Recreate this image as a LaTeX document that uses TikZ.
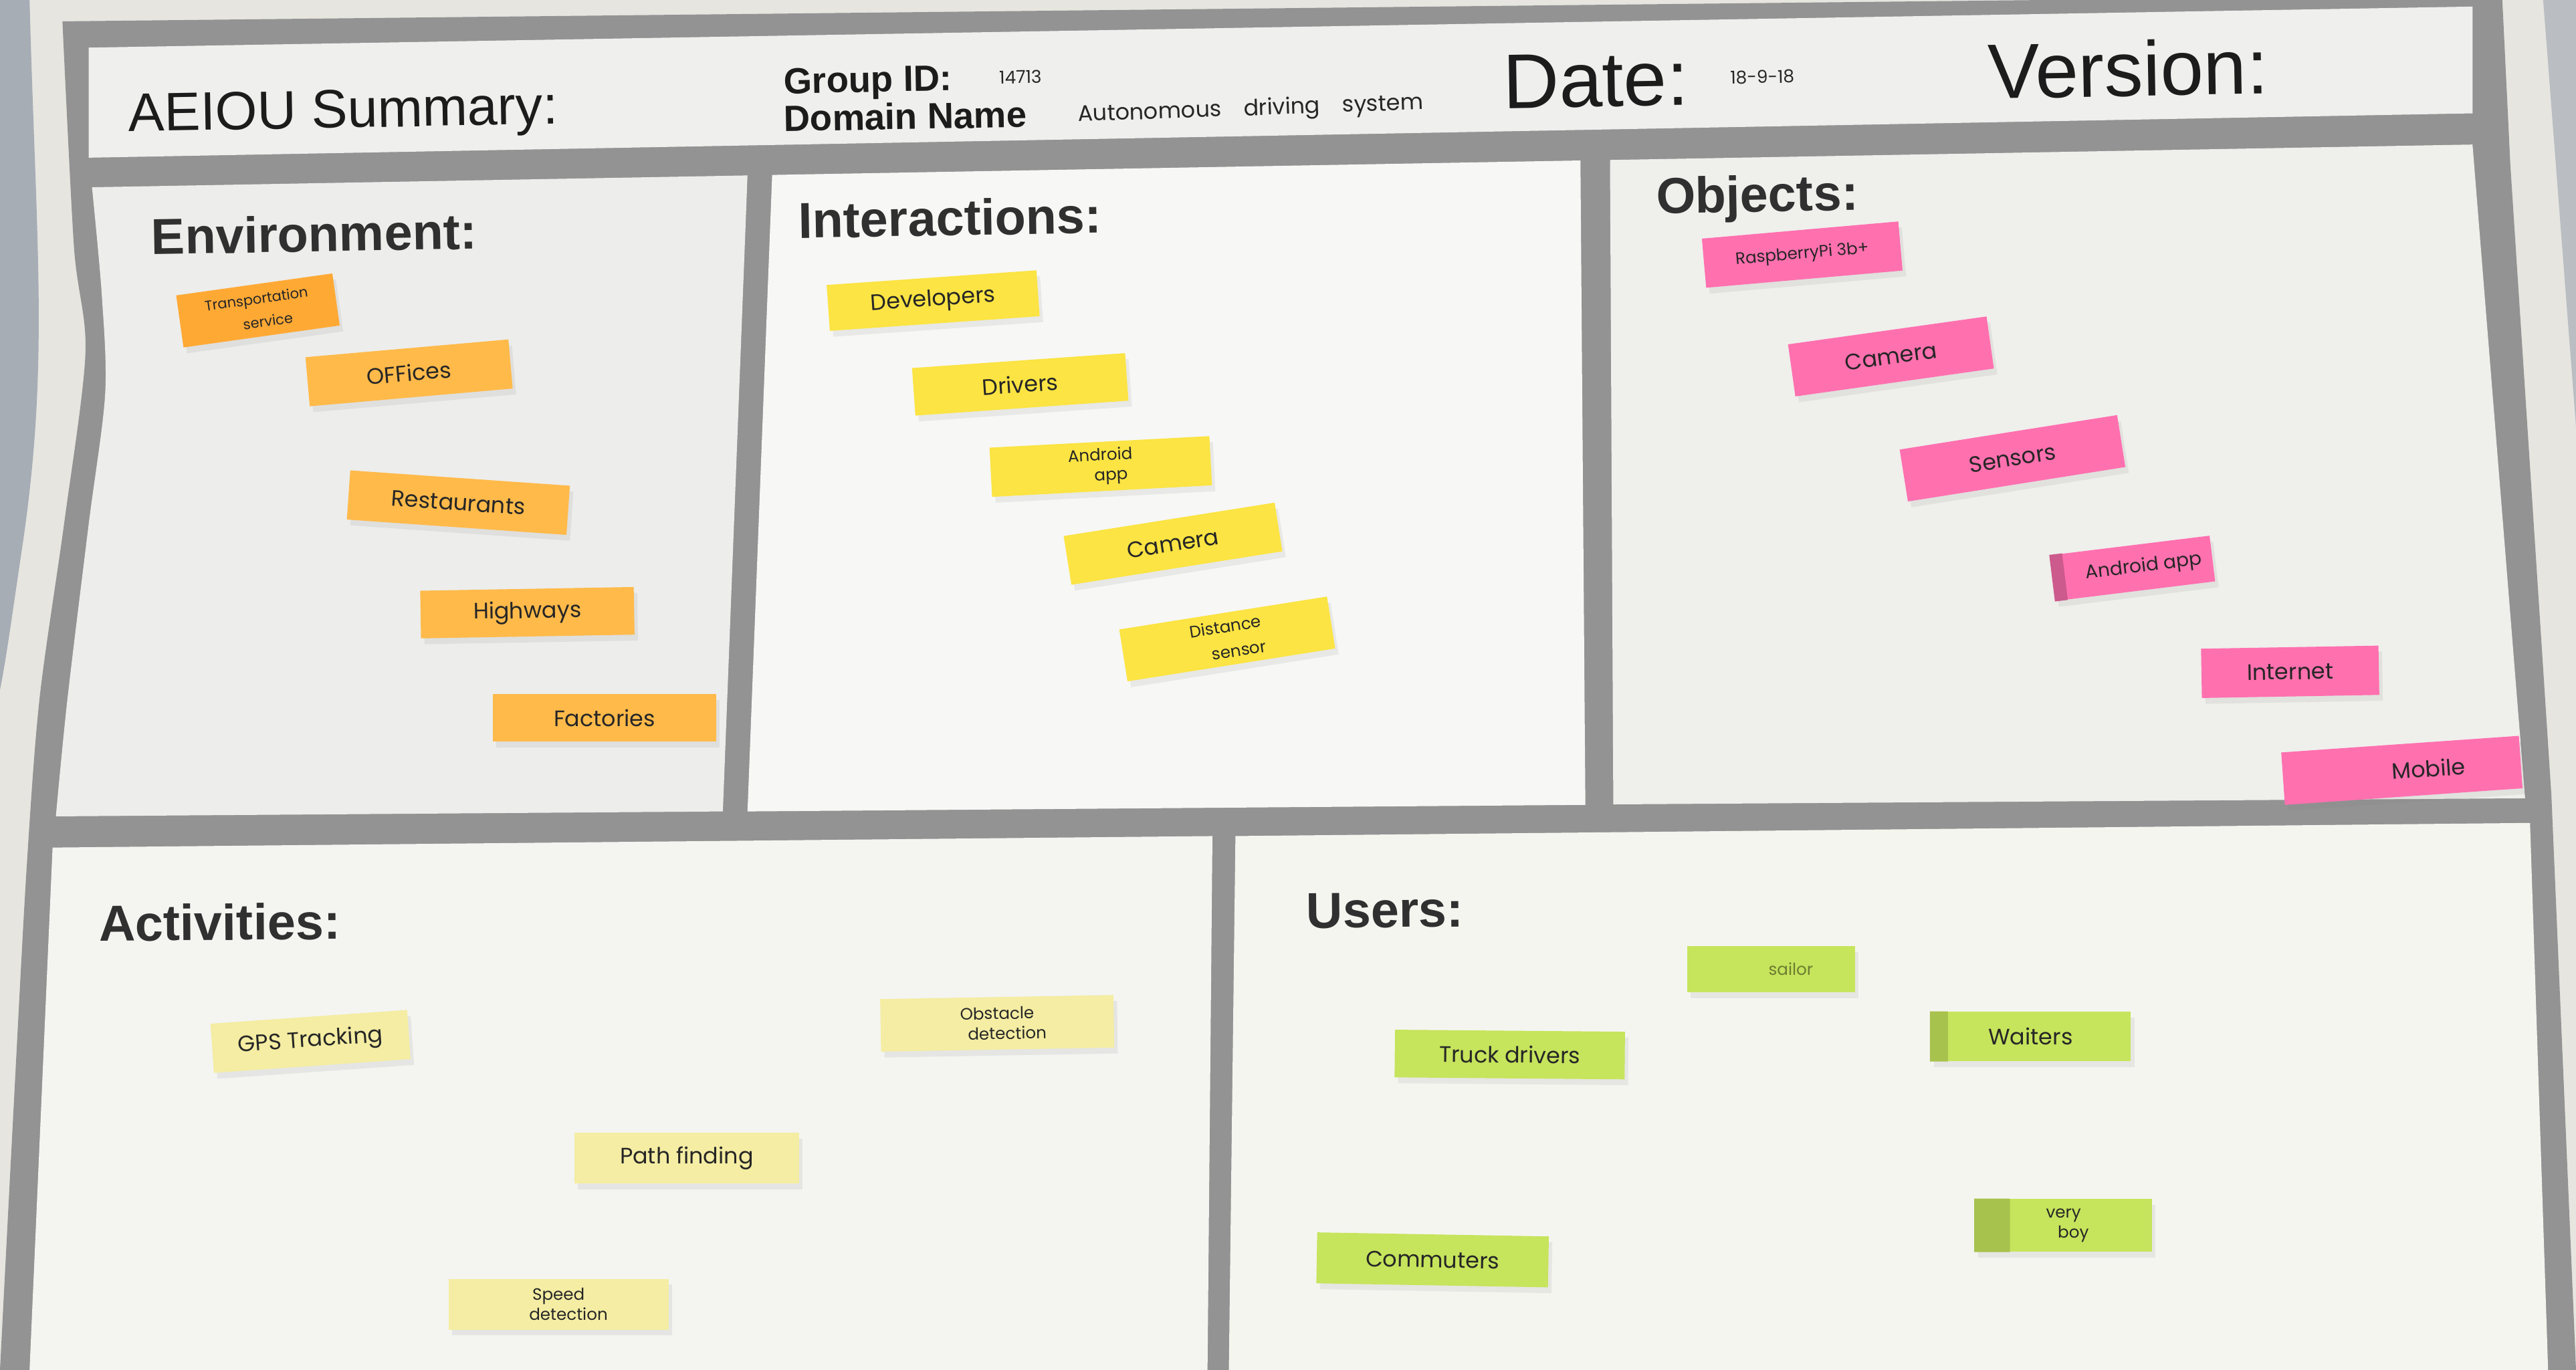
\documentclass[tikz,border=0pt]{standalone}
\usepackage{fontspec}
\setmainfont{Liberation Sans}
\newfontfamily\handfont{Poppins}
\usetikzlibrary{calc,shadows}
\definecolor{wallgray}{HTML}{E6E5E0}
\definecolor{wallblue}{HTML}{A7ADB5}
\definecolor{framegray}{HTML}{939393}
\definecolor{headerwhite}{HTML}{EFEFED}
\definecolor{envpaper}{HTML}{EDEDEB}
\definecolor{intpaper}{HTML}{F7F7F5}
\definecolor{objpaper}{HTML}{EFEFEC}
\definecolor{actpaper}{HTML}{F4F4F1}
\definecolor{userpaper}{HTML}{F5F5F0}
\definecolor{envorange}{HTML}{FFBA4A}
\definecolor{darkorange}{HTML}{FFA935}
\definecolor{intyellow}{HTML}{FBE443}
\definecolor{objpink}{HTML}{FF70AF}
\definecolor{actyellow}{HTML}{F4EDA3}
\definecolor{usergreen}{HTML}{C6E45C}
\definecolor{titleink}{HTML}{1C1C1C}
\definecolor{headink}{HTML}{303030}
\definecolor{penink}{HTML}{262626}
\newcommand{\px}{0.024566cm}
\newcommand{\makenote}[7]{
	\node[note, fill=#2, #3, minimum width=#4*\px, minimum height=#5*\px] (#1) at (#6) {#7};
}
\newcommand{\makefold}[3]{
	\fill[#2] (#1.north west) -- ($(#1.north west)!#3!(#1.north east)$) -- ($(#1.south west)!#3!(#1.south east)$) -- (#1.south west) -- cycle;
}
\newcommand{\indentline}{\hspace*{1.2em}}

\tikzset{
	note/.style={inner sep=0pt, align=center, text=penink, font=\handfont\fontsize{9.5}{10}\selectfont,
		drop shadow={opacity=0.12, shadow xshift=1.5pt, shadow yshift=-2.5pt}},
	twoline/.style={font=\handfont\fontsize{7}{8.6}\selectfont},
	heading/.style={anchor=base west, inner sep=0pt, text=headink, font=\bfseries\fontsize{21.5}{24}\selectfont},
	label/.style={anchor=base west, inner sep=0pt, text=titleink, font=\bfseries\fontsize{15.5}{18}\selectfont},
	big/.style={anchor=base west, inner sep=0pt, text=titleink, font=\fontsize{33}{36}\selectfont},
	hand/.style={anchor=base west, inner sep=0pt, text=penink, font=\handfont\fontsize{9}{10}\selectfont}
}

\begin{document}
\begin{tikzpicture}[x=0.024566cm,y=-0.024566cm]
	\useasboundingbox (0,0) rectangle (1568,834);
	\fill[wallgray] (0,0) rectangle (1568,834);
	\fill[wallblue] (0,0) -- (18,0) .. controls (22,150) and (30,220) .. (14,330) .. controls (8,370) and (4,400) .. (0,420) -- cycle;
	\fill[wallblue!70!wallgray] (1548,0) -- (1568,0) -- (1568,260) -- cycle;

	% frame and panels
	\fill[framegray] (38,13) -- (1523,-3) -- (1528,100) -- (1553,484) -- (1568,834) -- (0,834)
		-- plot[smooth] coordinates {(0,834) (8,680) (16,532) (24,426) (39,319) (52,215) (45,150) (38,13)} -- cycle;
	\fill[headerwhite] (54,29) -- (1505,4) -- (1505,69) -- (54,96) -- cycle;
	\fill[envpaper] (455,106.8) -- (440,494) -- (34,497)
		-- plot[smooth] coordinates {(34,497) (41,426) (54,319) (64,240) (62,180) (56,114)} -- cycle;
	\fill[intpaper] (470,106.5) -- (962,97.7) -- (965,490) -- (455,494) -- cycle;
	\fill[objpaper] (980,97.4) -- (1505,88) -- (1537,486) -- (982,489.7) -- cycle;
	\fill[actpaper] (32,516) -- (738,509) -- (735,834) -- (18,834) -- cycle;
	\fill[userpaper] (752,509) -- (1540,501) -- (1551,834) -- (748,834) -- cycle;

	% header
	\node[big, font=\fontsize{23}{26}\selectfont, rotate=1] (summary) at (78,80) {AEIOU Summary:};
	\node[label, rotate=1] (groupid) at (477,57) {Group ID:};
	\node[label, rotate=1] (domain) at (477,80) {Domain Name};
	\node[hand, font=\handfont\fontsize{7.5}{8}\selectfont, rotate=1] (groupnum) at (608,51) {14713};
	\node[hand, font=\handfont\fontsize{9.5}{10}\selectfont, rotate=2] (domainname) at (656,74) {Autonomous\quad driving\quad system};
	\node[big, rotate=1] (date) at (915,66) {Date:};
	\node[hand, font=\handfont\fontsize{7.5}{8}\selectfont, rotate=1] (datenum) at (1053,51) {18-9-18};
	\node[big, rotate=1] (version) at (1210,60) {Version:};

	% headings
	\node[heading, rotate=1] (environment) at (92,155) {Environment:};
	\node[heading, rotate=1] (interactions) at (486,145) {Interactions:};
	\node[heading, rotate=1] (objects) at (1008,130) {Objects:};
	\node[heading, rotate=0.5] (activities) at (60,573) {Activities:};
	\node[heading, rotate=0.5] (users) at (795,565) {Users:};

	% environment notes
	\makenote{transport}{darkorange}{rotate=8, font=\handfont\fontsize{6}{10}\selectfont}{96}{32}{157,189}{Transportation\\\indentline service}
	\makenote{offices}{envorange}{rotate=5}{124}{30}{249,227}{OFFices}
	\makenote{restaurants}{envorange}{rotate=-4}{134}{30}{279,306}{Restaurants}
	\makenote{highways}{envorange}{rotate=1}{130}{29}{321,373}{Highways}
	\makenote{factories}{envorange}{rotate=0}{136}{29}{368,437}{Factories}

	% interaction notes
	\makenote{developers}{intyellow}{rotate=4}{128}{28}{568,183}{Developers}
	\makenote{drivers}{intyellow}{rotate=4}{130}{29}{621,234}{Drivers}
	\makenote{androidapp}{intyellow}{rotate=3, twoline}{134}{30}{670,284}{Android\\\indentline app}
	\makenote{camera}{intyellow}{rotate=9}{130}{30}{714,331}{Camera}
	\makenote{distsensor}{intyellow}{rotate=9, font=\handfont\fontsize{7}{10.8}\selectfont}{128}{32}{747,389}{Distance\\\indentline sensor}

	% object notes
	\makenote{raspberry}{objpink}{rotate=5, font=\handfont\fontsize{7}{8}\selectfont}{120}{30}{1097,155}{RaspberryPi 3b+}
	\makenote{objcamera}{objpink}{rotate=8}{122}{32}{1151,217}{Camera}
	\makenote{sensors}{objpink}{rotate=9}{134}{32}{1225,279}{Sensors}
	\makenote{objandroid}{objpink}{rotate=7, font=\handfont\fontsize{8}{9}\selectfont}{98}{28}{1298,346}{\indentline Android app}
	\makenote{internet}{objpink}{rotate=1}{108}{30}{1394,409}{Internet}
	\makenote{mobile}{objpink}{rotate=4}{145}{32}{1462,469}{\indentline\indentline Mobile}
	\makefold{objandroid}{objpink!80!black}{0.08}

	% activity notes
	\makenote{gps}{actyellow}{rotate=4}{120}{30}{189,634}{GPS Tracking}
	\makenote{obstacle}{actyellow}{rotate=1, twoline}{142}{32}{607,623}{Obstacle\\\indentline detection}
	\makenote{pathfinding}{actyellow}{rotate=0}{137}{31}{418,705}{Path finding}
	\makenote{speed}{actyellow}{rotate=0, twoline}{134}{31}{340,794}{Speed\\\indentline detection}

	% user notes
	\makenote{sailor}{usergreen}{rotate=0, text=usergreen!55!black, font=\handfont\fontsize{7}{8}\selectfont}{102}{28}{1078,590}{\indentline\indentline sailor}
	\makenote{truckdrivers}{usergreen}{rotate=-0.5}{140}{29}{919,642}{Truck drivers}
	\makenote{waiters}{usergreen}{rotate=0}{122}{30}{1236,631}{Waiters}
	\makenote{commuters}{usergreen}{rotate=-1}{141}{31}{872,767}{Commuters}
	\makenote{veryboy}{usergreen}{rotate=0, twoline}{108}{32}{1256,746}{very\\\indentline boy}
	\makefold{waiters}{usergreen!85!black}{0.09}
	\makefold{veryboy}{usergreen!85!black}{0.2}
\end{tikzpicture}
\end{document}
